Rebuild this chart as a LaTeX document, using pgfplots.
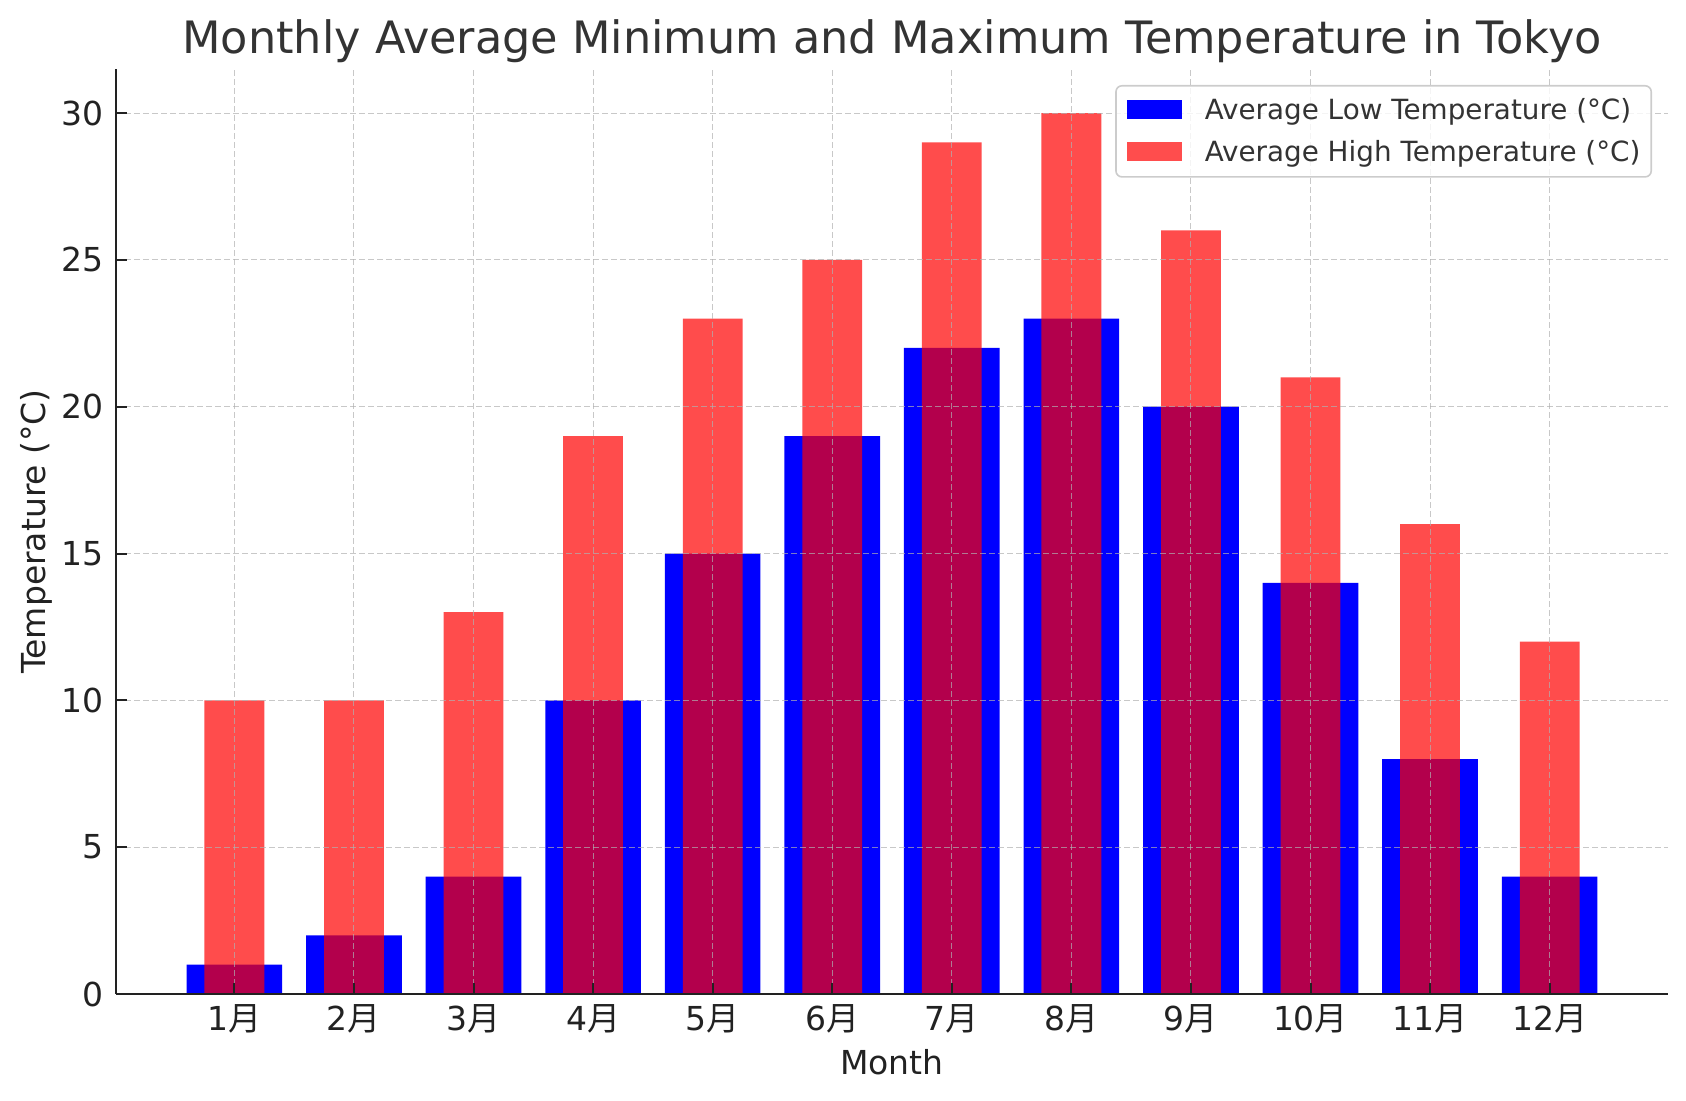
\documentclass[border=0pt]{standalone}
\usepackage{pgfplots}
\pgfplotsset{compat=1.18}
\usepackage{pgfplotstable}
\usepackage{fontspec}
\setmainfont{DejaVu Sans}
\newfontfamily\cjk{Noto Sans CJK JP}
\definecolor{gridc}{RGB}{176,176,176}
\definecolor{txt}{RGB}{34,34,34}
\definecolor{ttl}{RGB}{51,51,51}
\definecolor{legc}{RGB}{204,204,204}
\definecolor{lowc}{RGB}{0,0,255}
\definecolor{highleg}{RGB}{255,77,77}

\pgfplotstableread{
x low high
0 1 10
1 2 10
2 4 13
3 10 19
4 15 23
5 19 25
6 22 29
7 23 30
8 20 26
9 14 21
10 8 16
11 4 12
}\temps

\begin{document}
\begin{tikzpicture}
\path[use as bounding box] (-58pt,-53.5pt) rectangle (785pt,497pt);
\begin{axis}[
  at={(0pt,0pt)}, anchor=south west,
  scale only axis, width=776pt, height=462.5pt,
  xmin=-0.99, xmax=11.99, ymin=0, ymax=31.5,
  xtick={0,...,11},
  xticklabels={1{\cjk 月},2{\cjk 月},3{\cjk 月},4{\cjk 月},5{\cjk 月},6{\cjk 月},7{\cjk 月},8{\cjk 月},9{\cjk 月},10{\cjk 月},11{\cjk 月},12{\cjk 月}},
  ytick={0,5,...,30},
  axis lines*=left,
  axis line style={line width=1.3pt, color=txt},
  tick style={line width=1pt, color=txt},
  major tick length=5.5pt,
  tick align=inside,
  grid=major,
  major grid style={dash pattern=on 3pt off 1.5pt, color=gridc, opacity=0.7, line width=0.5pt},
  axis on top,
  /pgf/number format/assume math mode=true,
  tick label style={font=\fontsize{16.5}{20}\selectfont, color=txt, inner sep=0pt},
  xticklabel style={anchor=base, yshift=-18.5pt},
  yticklabel style={anchor=east, xshift=-6pt},
  xlabel={Month},
  ylabel={Temperature (°C)},
  label style={font=\fontsize{16.5}{20}\selectfont, color=txt, inner sep=0pt},
  xlabel style={at={(axis description cs:0.5,-0.0865)}, anchor=base},
  ylabel style={at={(axis description cs:-0.0453,0.5)}, anchor=base},
  title={Monthly Average Minimum and Maximum Temperature in Tokyo},
  title style={font=\fontsize{22.3}{27}\selectfont, color=ttl, at={(axis description cs:0.5,1)}, anchor=base, yshift=1.8pt, inner sep=0pt},
  legend cell align=left,
  legend style={at={(axis description cs:0.9897,0.9827)}, anchor=north east,
    font=\fontsize{13.9}{16}\selectfont, text=ttl,
    draw=legc, fill=white, fill opacity=0.8, draw opacity=1, text opacity=1,
    rounded corners=3pt, line width=0.8pt,
    inner xsep=5.4pt, inner ysep=5.5pt, row sep=7.45pt,
    nodes={inner sep=0pt, text height=11.2pt, text depth=2.35pt},
    /tikz/every odd column/.append style={column sep=11.5pt}},
]
\addplot[ybar, bar width=0.8, bar shift=0pt, fill=lowc, draw=none, forget plot] table[x=x, y=low] {\temps};
\addplot[ybar, bar width=0.5, bar shift=0pt, fill=red, fill opacity=0.7, draw=none, forget plot] table[x=x, y=high] {\temps};
\addlegendimage{draw=none, legend image code/.code={\path[draw=none, fill=lowc, fill opacity=1, sharp corners] (0pt,-4.175pt) rectangle (27.5pt,5.325pt);}}
\addlegendentry{Average Low Temperature (°C)}
\addlegendimage{draw=none, legend image code/.code={\path[draw=none, fill=highleg, fill opacity=1, sharp corners] (0pt,-4.175pt) rectangle (27.5pt,5.325pt);}}
\addlegendentry{Average High Temperature (°C)}
\end{axis}
\end{tikzpicture}
\end{document}
